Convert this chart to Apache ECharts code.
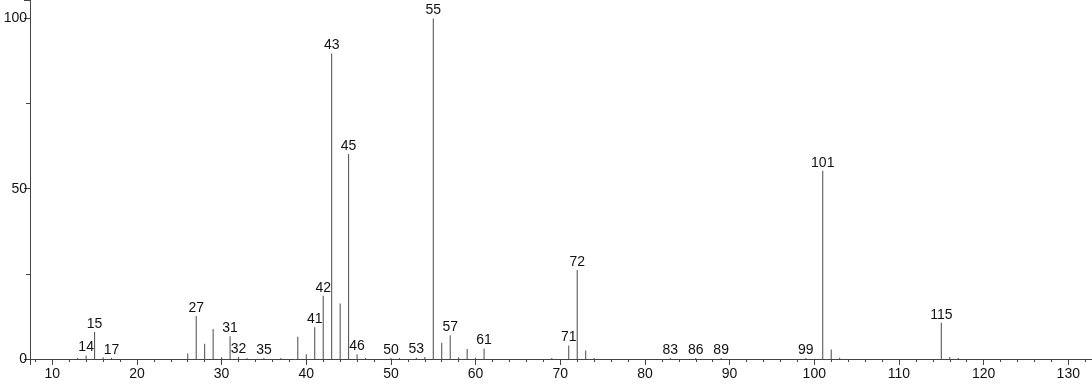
<!DOCTYPE html>
<html>
<head>
<meta charset="utf-8">
<script src="https://cdn.jsdelivr.net/npm/echarts@6/dist/echarts.min.js"></script>
<style>
html,body{margin:0;padding:0;background:#fff;}
#chart{width:1092px;height:384px;}
</style>
</head>
<body>
<div id="chart"></div>
<script>
// m/z values of the peaks
var mz = [13,14,15,16,17,26,27,28,29,30,31,32,33,35,37,39,40,41,42,43,44,45,46,47,50,51,53,54,55,56,57,58,59,60,61,69,71,72,73,74,83,86,89,99,101,102,103,115,116,117];
// relative intensities (%)
var intensity = [0.3,1.0,7.9,0.5,0.3,1.6,12.6,4.5,8.8,0.5,6.7,0.6,0.3,0.3,0.3,6.5,1.4,9.3,18.6,89.7,16.3,60.2,1.4,0.3,0.3,0.3,0.4,0.6,100,4.8,7.0,0.5,2.9,0.4,3.1,0.3,4.0,26.1,2.5,0.3,0.3,0.3,0.3,0.3,55.3,2.8,0.4,10.65,0.6,0.3];
// peaks that carry an m/z label
var labeled = [14,15,17,27,31,32,35,41,42,43,45,46,50,53,55,57,61,71,72,83,86,89,99,101,115];
// axis tick labels shown
var xTickLabels = [10,20,30,40,50,60,70,80,90,100,110,120,130];
var yTickLabels = [0,50,100];

var FONT = "'Liberation Sans', Arial, sans-serif";
var data = mz.map(function (m, i) {
  var item = { value: [m, intensity[i]] };
  if (labeled.indexOf(m) >= 0) {
    item.label = { show: true };
  }
  return item;
});

var chart = echarts.init(document.getElementById('chart'), null, { renderer: 'canvas' });
chart.setOption({
  animation: false,
  backgroundColor: '#fff',
  grid: { left: 30, right: 0, top: 0, bottom: 25, containLabel: false },
  xAxis: {
    type: 'value',
    min: 7.37,
    max: 132.8,
    splitNumber: 12,
    splitLine: { show: false },
    axisLine: { onZero: false, lineStyle: { color: '#444', width: 1 } },
    axisTick: { length: 6, lineStyle: { color: '#444' } },
    minorTick: { show: true, splitNumber: 5, length: 3, lineStyle: { color: '#444' } },
    axisLabel: {
      margin: 8,
      showMinLabel: false,
      showMaxLabel: false,
      color: '#111',
      fontFamily: FONT,
      fontSize: 14,
      formatter: function (v) { return xTickLabels.indexOf(v) >= 0 ? String(v) : ''; }
    }
  },
  yAxis: {
    type: 'value',
    min: 0,
    max: 105.4,
    interval: 50,
    splitLine: { show: false },
    axisLine: { show: true, lineStyle: { color: '#444', width: 1 } },
    axisTick: { show: true, length: 6, lineStyle: { color: '#444' } },
    minorTick: { show: true, splitNumber: 2, length: 4, lineStyle: { color: '#444' } },
    axisLabel: {
      margin: 3,
      showMaxLabel: false,
      color: '#111',
      fontFamily: FONT,
      fontSize: 14,
      formatter: function (v) { return yTickLabels.indexOf(v) >= 0 ? String(v) : ''; }
    }
  },
  series: [{
    type: 'bar',
    data: data,
    barWidth: 1,
    barMinHeight: 1,
    itemStyle: { color: '#4a4a4a' },
    label: {
      show: false,
      position: 'top',
      distance: 1,
      color: '#111',
      fontFamily: FONT,
      fontSize: 14,
      formatter: function (p) { return String(p.value[0]); }
    }
  }]
});
</script>
</body>
</html>
